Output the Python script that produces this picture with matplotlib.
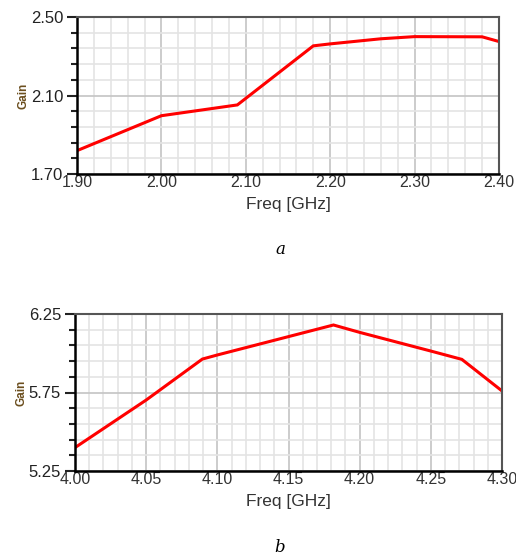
import matplotlib
matplotlib.use("Agg")
import matplotlib.pyplot as plt
from matplotlib.ticker import MultipleLocator, FormatStrFormatter

plt.rcParams['font.family'] = ['Liberation Sans', 'DejaVu Sans']

# panel a
freq_a = [1.90, 2.00, 2.09, 2.18, 2.20, 2.26, 2.30, 2.38, 2.40]
gain_a = [1.819, 1.997, 2.052, 2.353, 2.363, 2.389, 2.400, 2.399, 2.375]

# panel b
freq_b = [4.00, 4.05, 4.0895, 4.10, 4.15, 4.1816, 4.20, 4.25, 4.2718, 4.30]
gain_b = [5.399, 5.702, 5.963, 5.989, 6.106, 6.180, 6.133, 6.014, 5.961, 5.760]

fig = plt.figure(figsize=(5.16, 5.6), dpi=100)
W, H = 516, 560


def make_axes(rect_px):
    l, t, r, b = rect_px
    return fig.add_axes([l / W, 1 - b / H, (r - l) / W, (b - t) / H])


def style(ax, xlim, ylim, xmaj, xmin, ymaj, ymin, yoff):
    ax.set_xlim(*xlim)
    ax.set_ylim(*ylim)
    ax.xaxis.set_major_locator(MultipleLocator(xmaj))
    ax.xaxis.set_minor_locator(MultipleLocator(xmin))
    ax.yaxis.set_major_locator(MultipleLocator(ymaj, offset=yoff))
    ax.yaxis.set_minor_locator(MultipleLocator(ymin, offset=yoff))
    ax.xaxis.set_major_formatter(FormatStrFormatter('%.2f'))
    ax.yaxis.set_major_formatter(FormatStrFormatter('%.2f'))
    ax.grid(which='major', color='#c4c4c4', lw=1.2)
    ax.grid(which='minor', color='#e4e4e4', lw=1.2)
    ax.set_axisbelow(True)
    ax.tick_params(axis='x', which='both', length=0, pad=1, labelsize=11.5, colors='#333333')
    ax.tick_params(axis='y', which='major', length=7, width=1.5, pad=3, labelsize=12,
                   colors='#222222')
    ax.tick_params(axis='y', which='minor', length=4, width=1.5, color='#222222')
    for s in ['left', 'bottom']:
        ax.spines[s].set_color('black')
        ax.spines[s].set_linewidth(1.8)
    for s in ['top', 'right']:
        ax.spines[s].set_color('#555555')
        ax.spines[s].set_linewidth(1.5)
    ax.set_xlabel('Freq [GHz]', fontsize=12.5, color='#333333', labelpad=5)
    ax.set_ylabel('Gain', fontsize=8.5, color='#6b4e1e', fontweight='bold', labelpad=1)


ax1 = make_axes((77, 17, 499, 174))
ax1.plot(freq_a, gain_a, color='#ff0000', lw=2.2, solid_joinstyle='miter')
style(ax1, (1.90, 2.40), (1.70, 2.50), 0.1, 0.02, 0.4, 0.08, 0.1)

ax2 = make_axes((75, 314, 502, 471))
ax2.plot(freq_b, gain_b, color='#ff0000', lw=2.2, solid_joinstyle='miter')
style(ax2, (4.00, 4.30), (5.25, 6.25), 0.05, 0.01, 0.5, 0.1, 0.25)

fig.text(280 / W, 1 - 250 / H, 'a', ha='center', va='center', fontsize=12,
         style='italic', family='DejaVu Serif')
fig.text(280 / W, 1 - 548 / H, 'b', ha='center', va='center', fontsize=12,
         style='italic', family='DejaVu Serif')

fig.savefig('out.png', dpi=100)
